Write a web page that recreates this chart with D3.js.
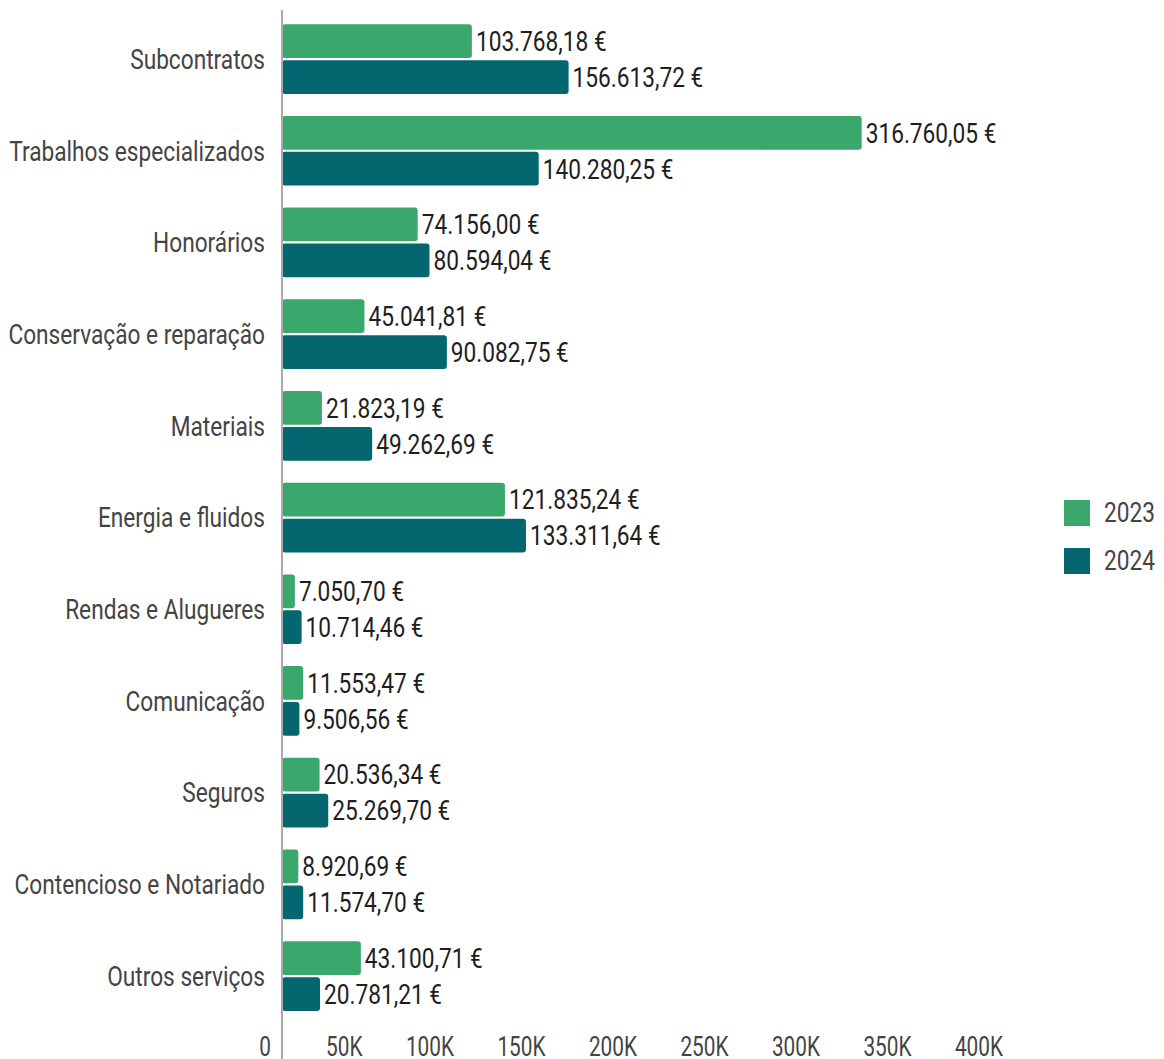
<!DOCTYPE html>
<html>
<head>
<meta charset="utf-8">
<script src="https://cdn.jsdelivr.net/npm/d3@7"></script>
<style>
  html, body { margin: 0; padding: 0; background: #fff; }
  svg { display: block; font-family: Roboto, "Noto Sans", sans-serif; }
</style>
</head>
<body>
<svg id="chart" width="1164" height="1059"></svg>
<script>
// Service costs by category, two years
const categories = [
  "Subcontratos",
  "Trabalhos especializados",
  "Honorários",
  "Conservação e reparação",
  "Materiais",
  "Energia e fluidos",
  "Rendas e Alugueres",
  "Comunicação",
  "Seguros",
  "Contencioso e Notariado",
  "Outros serviços"
];
const seriesNames = ["2023", "2024"];
const values2023 = [103768.18, 316760.05, 74156.00, 45041.81, 21823.19, 121835.24, 7050.70, 11553.47, 20536.34, 8920.69, 43100.71];
const values2024 = [156613.72, 140280.25, 80594.04, 90082.75, 49262.69, 133311.64, 10714.46, 9506.56, 25269.70, 11574.70, 20781.21];
const tickValues = [0, 50000, 100000, 150000, 200000, 250000, 300000, 350000, 400000];
const tickLabels = ["0", "50K", "100K", "150K", "200K", "250K", "300K", "350K", "400K"];
const colors = ["#3aa86c", "#04666f"];

const svg = d3.select("#chart");
const axisX = 282;

const x = d3.scaleLinear().domain([0, 50000]).range([axisX, axisX + 91.5]);

const y = d3.scaleBand()
  .domain(categories)
  .range([13.2, 1021.9])
  .paddingInner(0.24)
  .paddingOuter(0.12);

const ySub = d3.scaleBand()
  .domain(seriesNames)
  .range([0, y.bandwidth()])
  .paddingInner(0.06);

const fmt = v => {
  const parts = v.toFixed(2).split(".");
  const intPart = parts[0].replace(/\B(?=(\d{3})+(?!\d))/g, ".");
  return intPart + "," + parts[1] + " €";
};

// Narrow lettering: tall glyphs squeezed horizontally
const place = (px, py, sx) => `translate(${px},${py}) scale(${sx},1)`;

const rows = categories.map((c, i) => ({ cat: c, vals: [values2023[i], values2024[i]] }));

const groups = svg.append("g").selectAll("g")
  .data(rows)
  .join("g")
  .attr("transform", d => `translate(0,${y(d.cat)})`);

groups.selectAll("rect")
  .data(d => d.vals.map((v, k) => ({ v, k })))
  .join("rect")
  .attr("x", x(0))
  .attr("y", d => ySub(seriesNames[d.k]))
  .attr("width", d => x(d.v) - x(0))
  .attr("height", ySub.bandwidth())
  .attr("rx", 3)
  .attr("fill", d => colors[d.k]);

groups.selectAll("text.val")
  .data(d => d.vals.map((v, k) => ({ v, k })))
  .join("text")
  .attr("class", "val")
  .attr("transform", d => place(x(d.v) + 4, ySub(seriesNames[d.k]) + ySub.bandwidth() / 2, 0.81))
  .attr("dy", "0.35em")
  .attr("font-size", 28)
  .attr("fill", "#1e1e1e")
  .text(d => fmt(d.v));

// Category labels
svg.append("g").selectAll("text")
  .data(categories)
  .join("text")
  .attr("transform", d => place(axisX - 17, y(d) + y.bandwidth() / 2, 0.81))
  .attr("dy", "0.35em")
  .attr("text-anchor", "end")
  .attr("font-size", 28)
  .attr("fill", "#444")
  .text(d => d);

// Baseline
svg.append("line")
  .attr("x1", axisX).attr("x2", axisX)
  .attr("y1", 10).attr("y2", 1059)
  .attr("stroke", "#aaa")
  .attr("stroke-width", 2);

// Value axis labels
svg.append("g").selectAll("text")
  .data(tickValues)
  .join("text")
  .attr("transform", d => place(x(d) - 11, 1047, 0.77))
  .attr("dy", "0.35em")
  .attr("text-anchor", "end")
  .attr("font-size", 27)
  .attr("fill", "#444")
  .text((d, i) => tickLabels[i]);

// Legend
const legend = svg.append("g").selectAll("g")
  .data(seriesNames)
  .join("g")
  .attr("transform", (d, i) => `translate(1064,${500 + i * 48})`);
legend.append("rect")
  .attr("width", 26).attr("height", 26)
  .attr("fill", (d, i) => colors[i]);
legend.append("text")
  .attr("transform", place(40, 12, 0.81))
  .attr("dy", "0.35em")
  .attr("font-size", 28)
  .attr("fill", "#444")
  .text(d => d);
</script>
</body>
</html>
